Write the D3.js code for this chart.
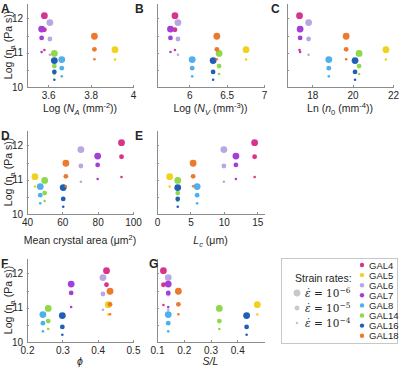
<!DOCTYPE html>
<html>
<head>
<meta charset="utf-8">
<script src="https://cdn.jsdelivr.net/npm/d3@7"></script>
<style>
  body { margin: 0; background: #fff; }
  text { font-family: "Liberation Sans", Arial, sans-serif; fill: #262626; }
  .axis path, .axis line { stroke: #8c8c8c; shape-rendering: crispEdges; }
  .axis text { font-size: 10px; }
</style>
</head>
<body>
<script>
const samples = ["GAL4", "GAL5", "GAL6", "GAL7", "GAL8", "GAL14", "GAL16", "GAL18"];
const sampleColors = ["#d6358f", "#f0d21e", "#b9a6e3", "#a33fd8", "#4eb0ec", "#8ed84a", "#1f5fb8", "#ec7a2c"];

// log10 apparent viscosity at strain rate 1e-6, 1e-5, 1e-4 s^-1
const etaSlow = [12.08, 11.09, 11.88, 11.69, 10.80, 10.98, 10.77, 11.48];
const etaMid  = [11.67, null,  11.40, 11.43, 10.55, 10.61, 10.44, 11.10];
const etaFast = [11.08, 10.80, 10.94, 11.02, 10.31, 10.38, 10.21, 10.81];
const strainExps = [-6, -5, -4];

// crystal textural parameters, one per sample
const logNA = [3.582, 3.915, 3.608, 3.569, 3.664, 3.629, 3.629, 3.818];
const logNV = [5.81, 6.76, 5.85, 5.75, 6.04, 6.40, 6.32, 6.37];
const lnN0 = [17.37, 21.65, 17.82, 17.40, 18.82, 20.32, 20.12, 19.68];
const crystalArea = [93.5, 44.5, 70.5, 80, 47.5, 50, 60.5, 62];
const Lc = [14.6, 1.9, 10.0, 11.8, 6.0, 3.1, 3.1, 5.4];
const phi = [0.425, 0.43, 0.415, 0.325, 0.245, 0.26, 0.30, 0.435];
const SL = [0.124, 0.475, 0.142, 0.142, 0.142, 0.333, 0.435, 0.18];

const W = 400, H = 368;
const svg = d3.select("body").append("svg").attr("width", W).attr("height", H);

const cols = [[27, 133], [157, 264], [287, 393]];
const rowBottom = [87, 214, 342];
const plotH = 84;
const letterY = [9, 136, 264];
const titleY = [112, 244, 365];
const radii = [3.4, 2.4, 1.3];

const panels = [
  { letter: "A", xs: logNA, dom: [3.5, 4], ticks: [3.6, 3.8, 4], col: 0, row: 0, lx: 1,
    title: [{ t: "Log (" }, { t: "N", i: 1 }, { t: "A", i: 1, sub: 1 }, { t: " (mm" }, { t: "-2", sup: 1 }, { t: "))" }] },
  { letter: "B", xs: logNV, dom: [5.57, 7], ticks: [6, 6.5, 7], col: 1, row: 0, lx: 135,
    title: [{ t: "Log (" }, { t: "N", i: 1 }, { t: "V", i: 1, sub: 1 }, { t: " (mm" }, { t: "-3", sup: 1 }, { t: "))" }] },
  { letter: "C", xs: lnN0, dom: [16.75, 22], ticks: [18, 20, 22], col: 2, row: 0, lx: 271,
    title: [{ t: "Ln (" }, { t: "n", i: 1 }, { t: "0", sub: 1 }, { t: " (mm" }, { t: "-4", sup: 1 }, { t: "))" }] },
  { letter: "D", xs: crystalArea, dom: [40, 100], ticks: [40, 60, 80, 100], col: 0, row: 1, lx: 1,
    title: [{ t: "Mean crystal area (\u03bcm" }, { t: "2", sup: 1 }, { t: ")" }] },
  { letter: "E", xs: Lc, dom: [0, 16], ticks: [0, 5, 10, 15], col: 1, row: 1, lx: 135,
    title: [{ t: "L", i: 1 }, { t: "c", i: 1, sub: 1 }, { t: " (\u03bcm)" }] },
  { letter: "F", xs: phi, dom: [0.2, 0.5], ticks: [0.2, 0.3, 0.4, 0.5], col: 0, row: 2, lx: 1,
    title: [{ t: "\u03d5", i: 1 }] },
  { letter: "G", xs: SL, dom: [0.1, 0.5], ticks: [0.1, 0.2, 0.3, 0.4], col: 1, row: 2, lx: 149,
    title: [{ t: "S/L", i: 1 }] }
];

// text with sub/superscripts built from tspans
function richText(sel, parts, size) {
  let shift = 0;
  parts.forEach(p => {
    const target = p.sub ? size * 0.3 : p.sup ? -size * 0.4 : 0;
    sel.append("tspan")
      .attr("dy", target - shift)
      .style("font-size", (p.sub || p.sup ? size * 0.72 : size) + "px")
      .style("font-style", p.i ? "italic" : null)
      .text(p.t);
    shift = target;
  });
}

const fmt = d => String(+d.toFixed(2));
const etaRows = [etaSlow, etaMid, etaFast];

panels.forEach(p => {
  const [x0, x1] = cols[p.col];
  const yb = rowBottom[p.row];
  const x = d3.scaleLinear().domain(p.dom).range([x0, x1]);
  const y = d3.scaleLinear().domain([10, 12.45]).range([yb, yb - plotH]);

  svg.append("g")
    .attr("class", "axis")
    .attr("transform", "translate(0," + yb + ")")
    .call(d3.axisBottom(x).tickValues(p.ticks).tickSizeInner(-2).tickSizeOuter(0).tickPadding(5).tickFormat(fmt));

  svg.append("g")
    .attr("class", "axis")
    .attr("transform", "translate(" + x0 + ",0)")
    .call(d3.axisLeft(y).tickValues([10, 10.5, 11, 11.5, 12]).tickSizeInner(-2).tickSizeOuter(0).tickPadding(4)
      .tickFormat(d => (p.col === 0 && d % 1 === 0) ? d : ""));

  svg.selectAll(".axis .domain").attr("fill", "none");

  // markers: one per sample and strain rate
  const pts = [];
  samples.forEach((s, i) => {
    etaRows.forEach((row, k) => {
      if (row[i] != null) pts.push({ x: p.xs[i], y: row[i], c: sampleColors[i], r: radii[k] });
    });
  });
  svg.append("g").selectAll("circle")
    .data(pts)
    .join("circle")
    .attr("cx", d => x(d.x))
    .attr("cy", d => y(d.y))
    .attr("r", d => d.r)
    .attr("fill", d => d.c);

  // panel letter
  svg.append("text")
    .attr("x", p.lx).attr("y", letterY[p.row] + 4)
    .style("font-size", "12px").style("font-weight", "bold")
    .text(p.letter);

  // x title
  const xt = svg.append("text")
    .attr("x", (x0 + x1) / 2).attr("y", titleY[p.row])
    .attr("text-anchor", "middle");
  richText(xt, p.title, 10.5);

  // y title on the left column
  if (p.col === 0) {
    const yt = svg.append("text")
      .attr("transform", "translate(12," + (yb - plotH / 2) + ") rotate(-90)")
      .attr("text-anchor", "middle");
    richText(yt, [{ t: "Log (\u03b7" }, { t: "a", sub: 1 }, { t: " (Pa s))" }], 10.5);
  }
});

// legend
const lg = svg.append("g");
lg.append("rect")
  .attr("x", 281.5).attr("y", 258.5).attr("width", 116).attr("height", 85)
  .attr("fill", "#fff").attr("stroke", "#c8c8c8");

lg.append("text").attr("x", 295).attr("y", 282).style("font-size", "10.5px").text("Strain rates:");

strainExps.forEach((e, k) => {
  const yy = 293 + k * 15;
  lg.append("circle").attr("cx", 297).attr("cy", yy).attr("r", radii[k]).attr("fill", "#c8c8c8");
  const t = lg.append("text").attr("x", 305).attr("y", yy + 4)
    .style("font-family", "'DejaVu Serif', 'Liberation Serif', serif").style("font-size", "10.5px");
  t.append("tspan").style("font-style", "italic").text("\u03b5\u0307");
  t.append("tspan").text(" = 10");
  t.append("tspan").attr("dy", -4).style("font-size", "7.5px").text("\u2212" + Math.abs(e));
});

samples.forEach((s, i) => {
  const yy = 265 + i * 10.1;
  lg.append("circle").attr("cx", 362).attr("cy", yy).attr("r", 2.2).attr("fill", sampleColors[i]);
  lg.append("text").attr("x", 369).attr("y", yy + 3.5).style("font-size", "9.5px").text(s);
});
</script>
</body>
</html>
